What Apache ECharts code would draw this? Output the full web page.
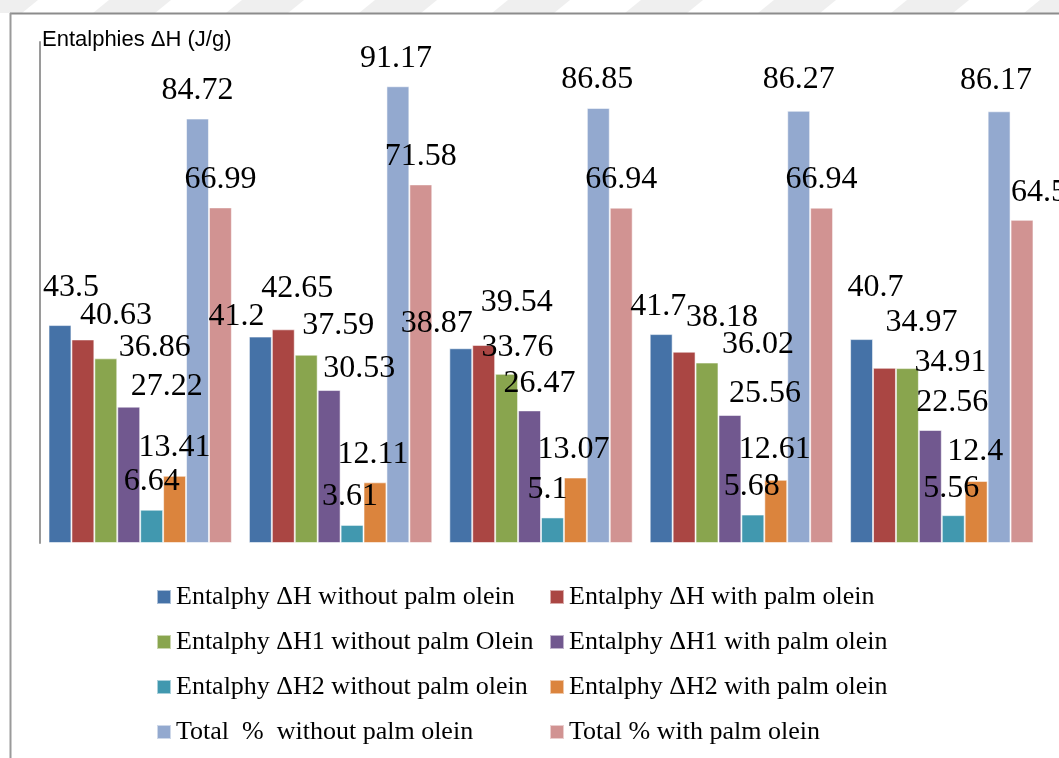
<!DOCTYPE html>
<html>
<head>
<meta charset="utf-8">
<title>Entalphies ΔH (J/g)</title>
<script src="https://cdn.jsdelivr.net/npm/echarts@6/dist/echarts.min.js"></script>
<style>
  html, body { margin: 0; padding: 0; background: #ffffff; }
  #chart { width: 1059px; height: 758px; }
</style>
</head>
<body>
<div id="chart"></div>
<script>
// Five samples, eight measurements each
const categories = ['1', '2', '3', '4', '5'];

const seriesNames = [
  'Entalphy ΔH without palm olein',
  'Entalphy ΔH with palm olein',
  'Entalphy ΔH1 without palm Olein',
  'Entalphy ΔH1 with palm olein',
  'Entalphy ΔH2 without palm olein',
  'Entalphy ΔH2 with palm olein',
  'Total  %  without palm olein',
  'Total % with palm olein'
];

const dhWithout   = [43.5, 41.2, 38.87, 41.7, 40.7];
const dhWith      = [40.63, 42.65, 39.54, 38.18, 34.97];
const dh1Without  = [36.86, 37.59, 33.76, 36.02, 34.91];
const dh1With     = [27.22, 30.53, 26.47, 25.56, 22.56];
const dh2Without  = [6.64, 3.61, 5.1, 5.68, 5.56];
const dh2With     = [13.41, 12.11, 13.07, 12.61, 12.4];
const totalWithout = [84.72, 91.17, 86.85, 86.27, 86.17];
const totalWith    = [66.99, 71.58, 66.94, 66.94, 64.5];

const seriesValues = [dhWithout, dhWith, dh1Without, dh1With, dh2Without, dh2With, totalWithout, totalWith];

const colors = ['#4572A7', '#AA4643', '#89A54E', '#71588F', '#4198AF', '#DB843D', '#93A9CF', '#D19392'];

// Hand-placed value labels: [dx, dy] nudges per series, per sample
const labelNudge = [
  [[11, -9], [-24, 8], [-24, 3], [-3, 1], [14, -23]],
  [[33, 4], [14, -13], [33, -14], [38, -6], [37, -17]],
  [[49, 17], [32, -1], [11, 2], [51, 10], [43, 22]],
  [[38, 8], [30, 7], [10, 1], [35, 7], [22, 1]],
  [[0, 0], [-2, 0], [-5, 0], [-1, 0], [-2, 1]],
  [[0, 0], [-2, 0], [-2, 0], [-1, -2], [-1, -1]],
  [[0, 0], [-2, 0], [-1, 0], [0, -3], [-3, -3]],
  [[0, 0], [0, 0], [0, 0], [0, 0], [17, 1]]
];

const serif = '"Liberation Serif", "Times New Roman", serif';
const legendFont = 26;

const series = seriesNames.map((name, s) => ({
  name: name,
  type: 'bar',
  barGap: '0%',
  barCategoryGap: '8.5%',
  itemStyle: { color: colors[s], borderColor: 'rgba(255,255,255,0.55)', borderWidth: 1 },
  data: seriesValues[s].map((v, i) => ({
    value: v,
    label: { offset: labelNudge[s][i] }
  })),
  label: {
    show: true,
    position: 'top',
    distance: 12,
    fontFamily: serif,
    fontSize: 32,
    color: '#000000',
    formatter: p => String(p.value)
  },
  emphasis: { disabled: true },
  animation: false
}));

// Faint stripe band along the top edge
const stripes = [];
for (let x = -40; x < 1100; x += 133) {
  stripes.push({
    type: 'polygon',
    silent: true,
    z: -10,
    shape: { points: [[x, 13], [x + 62, 13], [x + 78, 0], [x + 16, 0]] },
    style: { fill: '#efefef' }
  });
}

const legendBase = {
  orient: 'vertical',
  top: 597 - legendFont / 2,
  padding: 0,
  itemWidth: 14,
  itemHeight: 14,
  itemGap: 45 - legendFont,
  icon: 'rect',
  selectedMode: false,
  textStyle: { fontFamily: serif, fontSize: legendFont, color: '#000000' }
};

const chart = echarts.init(document.getElementById('chart'), null, { renderer: 'canvas' });
chart.setOption({
  backgroundColor: '#ffffff',
  animation: false,
  color: colors,
  title: {
    text: 'Entalphies ΔH (J/g)',
    left: 42,
    top: 29,
    padding: 0,
    textStyle: { fontFamily: '"Liberation Sans", Arial, sans-serif', fontSize: 22, fontWeight: 'normal', color: '#000000' }
  },
  graphic: stripes.concat([
    { type: 'line', silent: true, shape: { x1: 10, y1: 13.5, x2: 1059, y2: 13.5 }, style: { stroke: '#8c8c8c', lineWidth: 2 } },
    { type: 'line', silent: true, shape: { x1: 10.5, y1: 13, x2: 10.5, y2: 758 }, style: { stroke: '#9a9a9a', lineWidth: 2 } }
  ]),
  grid: { left: 40, right: 17, top: 42, bottom: 215, containLabel: false },
  xAxis: {
    type: 'category',
    data: categories,
    axisLine: { show: false },
    axisTick: { show: false },
    axisLabel: { show: false },
    splitLine: { show: false }
  },
  yAxis: {
    type: 'value',
    min: 0,
    max: 100,
    interval: 20,
    axisLine: { show: true, lineStyle: { color: '#9a9a9a', width: 2 } },
    axisTick: { show: false },
    axisLabel: { show: false },
    splitLine: { show: false }
  },
  legend: [
    Object.assign({}, legendBase, {
      left: 156,
      data: [seriesNames[0], seriesNames[2], seriesNames[4], seriesNames[6]]
    }),
    Object.assign({}, legendBase, {
      left: 549,
      data: [seriesNames[1], seriesNames[3], seriesNames[5], seriesNames[7]]
    })
  ],
  series: series
});
</script>
</body>
</html>
